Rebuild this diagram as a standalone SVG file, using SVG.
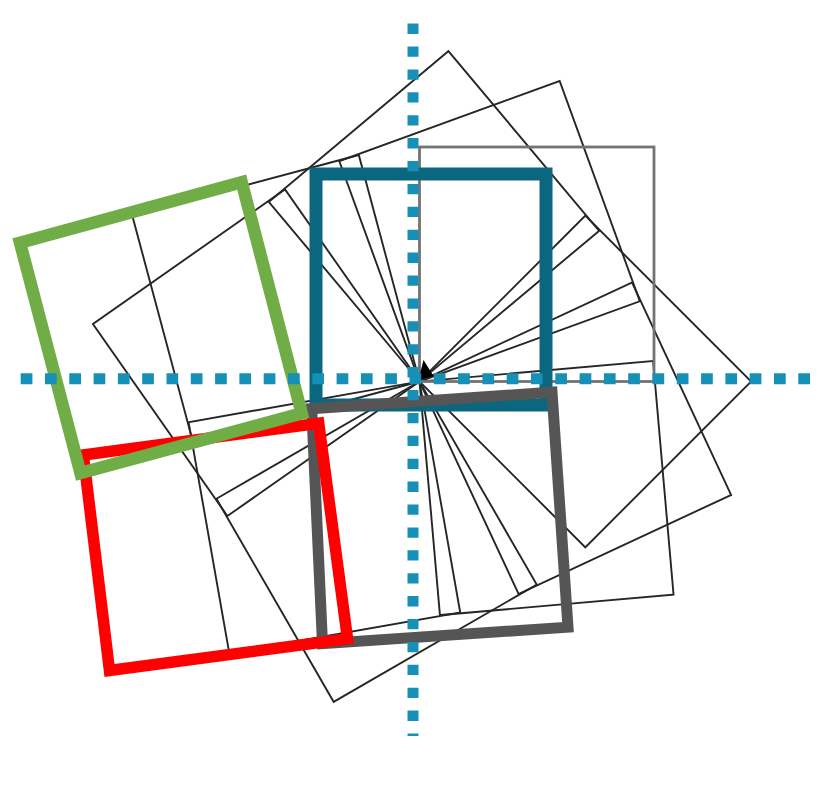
<svg xmlns="http://www.w3.org/2000/svg" xmlns:xlink="http://www.w3.org/1999/xlink" width="830" height="798" viewBox="0 0 830 798">
  <style>
    .thin { fill: none; stroke: #262626; stroke-width: 1.9; }
    .base { fill: none; stroke: #737373; stroke-width: 2.8; }
    .thick { fill: none; stroke-linejoin: miter; }
    .dots { fill: none; stroke: #1690B6; stroke-width: 11; }
  </style>
  <defs>
    <rect id="sq" x="419.5" y="147" width="234.5" height="234.5"/>
  </defs>
  <rect x="0" y="0" width="830" height="798" fill="#ffffff"/>
  <g id="rotated-squares">
    <use xlink:href="#sq" href="#sq" class="thin" transform="rotate(-40 419.5 381.5)"/>
    <use xlink:href="#sq" href="#sq" class="thin" transform="rotate(-20 419.5 381.5)"/>
    <use xlink:href="#sq" href="#sq" class="thin" transform="rotate(45 419.5 381.5)"/>
    <use xlink:href="#sq" href="#sq" class="thin" transform="rotate(65 419.5 381.5)"/>
    <use xlink:href="#sq" href="#sq" class="thin" transform="rotate(85 419.5 381.5)"/>
    <use xlink:href="#sq" href="#sq" class="thin" transform="rotate(150 419.5 381.5)"/>
    <use xlink:href="#sq" href="#sq" class="thin" transform="rotate(170 419.5 381.5)"/>
    <use xlink:href="#sq" href="#sq" class="thin" transform="rotate(235 419.5 381.5)"/>
    <use xlink:href="#sq" href="#sq" class="thin" transform="rotate(255 419.5 381.5)"/>
  </g>
  <g id="base-square">
    <use xlink:href="#sq" href="#sq" class="base"/>
  </g>
  <g id="pivot">
    <polygon points="423.5,360 418.5,380 433.5,376" fill="#000000"/>
  </g>
  <g id="blue-square">
    <rect class="thick" x="316" y="174" width="230" height="231" stroke="#0B6680" stroke-width="13"/>
  </g>
  <g id="grey-square">
    <polygon class="thick" points="311.7,408.7 552,392.2 568,627.2 322.5,643.7" stroke="#555555" stroke-width="11"/>
  </g>
  <g id="red-square">
    <polygon class="thick" points="83.3,455 318.7,423.3 347.5,638.8 109.5,670.5" stroke="#FF0000" stroke-width="11.5"/>
  </g>
  <g id="green-square">
    <polygon class="thick" points="20,242.7 241.7,182.2 301.7,413.3 80.5,473" stroke="#70AD47" stroke-width="12.5"/>
  </g>
  <g id="axes">
    <line class="dots" x1="20.7" y1="378.8" x2="810" y2="378.8" stroke-dasharray="11.7 12.6"/>
    <line class="dots" x1="413" y1="23.6" x2="413" y2="736" stroke-dasharray="10.3 12.6"/>
  </g>
</svg>
